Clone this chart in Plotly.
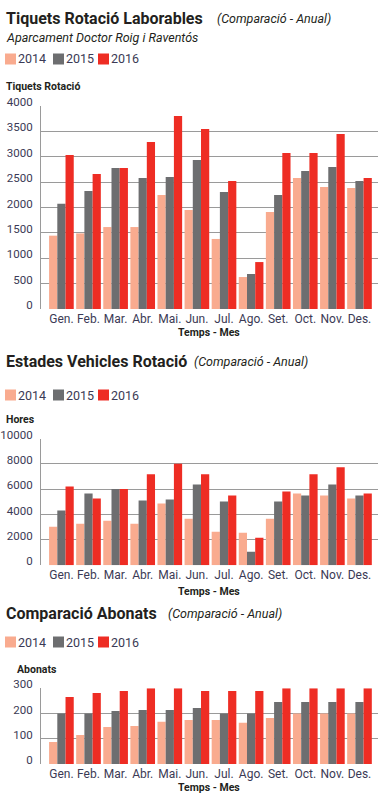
import plotly.graph_objects as go

W, H = 387, 804

months = ["Gen.", "Feb.", "Mar.", "Abr.", "Mai.", "Jun.", "Jul.", "Ago.", "Set.", "Oct.", "Nov.", "Des."]
years = ["2014", "2015", "2016"]
colors = ["#F9AB8F", "#6D6E70", "#EE2D24"]

tiquets_2014 = [1445, 1490, 1615, 1615, 2245, 1950, 1380, 630, 1910, 2580, 2405, 2385]
tiquets_2015 = [2075, 2325, 2780, 2580, 2600, 2935, 2305, 690, 2245, 2720, 2800, 2520]
tiquets_2016 = [3035, 2660, 2780, 3290, 3805, 3545, 2520, 925, 3075, 3075, 3450, 2580]

hores_2014 = [3050, 3280, 3520, 3280, 4870, 3680, 2650, 2570, 3680, 5670, 5510, 5270]
hores_2015 = [4320, 5670, 6010, 5110, 5190, 6380, 5030, 1060, 5030, 5510, 6380, 5510]
hores_2016 = [6220, 5270, 6010, 7180, 8000, 7180, 5510, 2170, 5830, 7180, 7740, 5670]

abonats_2014 = [87, 115, 147, 151, 167, 174, 174, 163, 182, 200, 200, 200]
abonats_2015 = [200, 200, 210, 214, 214, 222, 200, 200, 246, 246, 246, 246]
abonats_2016 = [266, 281, 289, 300, 300, 289, 289, 289, 300, 300, 300, 300]

y_ticks_1 = [0, 500, 1000, 1500, 2000, 2500, 3000, 3500, 4000]
y_ticks_2 = [0, 2000, 4000, 6000, 8000, 10000]
y_ticks_3 = [0, 100, 200, 300]

FONT = "Roboto"
TXT = "#231f20"
TICK = "#3b3a55"
GRID = "#9a9a9a"


def py(p):
    return 1 - p / H


def px(p):
    return p / W


fig = go.Figure()

series = [
    ([tiquets_2014, tiquets_2015, tiquets_2016], "x", "y"),
    ([hores_2014, hores_2015, hores_2016], "x2", "y2"),
    ([abonats_2014, abonats_2015, abonats_2016], "x3", "y3"),
]
for vals, xa, ya in series:
    for yr, v, c in zip(years, vals, colors):
        fig.add_trace(go.Bar(x=months, y=v, name=yr, marker=dict(color=c, line=dict(width=0)),
                             xaxis=xa, yaxis=ya, showlegend=False, hoverinfo="skip"))

xrange = [-0.753, 11.683]
xd = [px(41), px(378)]
plots = [(106, 309, [0, 4000], y_ticks_1), (438.5, 565.3, [0, 10000], y_ticks_2), (688.3, 764, [0, 300], y_ticks_3)]

layout = dict(
    width=W, height=H, margin=dict(l=0, r=0, t=0, b=0, autoexpand=False),
    paper_bgcolor="white", plot_bgcolor="white",
    barmode="group", bargap=0.09, bargroupgap=0,
    font=dict(family=FONT, color=TXT),
)
for i, (top, bot, rng, ticks) in enumerate(plots):
    sfx = "" if i == 0 else str(i + 1)
    layout["xaxis" + sfx] = dict(domain=xd, range=xrange, anchor="y" + sfx, showgrid=False,
                                 showline=False, ticks="", automargin=False,
                                 tickfont=dict(size=12, color=TICK, family=FONT),
                                 ticklabelstandoff=1, fixedrange=True)
    layout["yaxis" + sfx] = dict(domain=[py(bot), py(top)], range=rng, anchor="x" + sfx,
                                 tickvals=ticks, ticktext=[str(t) for t in ticks],
                                 showgrid=True, gridcolor=GRID, gridwidth=1,
                                 showline=True, linecolor=GRID, linewidth=1,
                                 zeroline=False, ticks="", ticklabelstandoff=5, automargin=False,
                                 ticklabelshift=-4,
                                 tickfont=dict(size=11.5, color=TICK, family=FONT), fixedrange=True)
fig.update_layout(**layout)

ann = []
shapes = []


def text(x, y, s, size, bold=False, italic=False, color=TXT, xanchor="left"):
    ann.append(dict(x=px(x), y=py(y), xref="paper", yref="paper", text=s, showarrow=False,
                    xanchor=xanchor, yanchor="middle", borderpad=0,
                    font=dict(size=size, family=FONT, color=color,
                              weight="bold" if bold else "normal",
                              style="italic" if italic else "normal")))


def legend(y):
    xs = [5, 53, 98]
    for x0, yr, c in zip(xs, years, colors):
        shapes.append(dict(type="rect", xref="paper", yref="paper", x0=px(x0), x1=px(x0 + 11),
                           y0=py(y + 5.5), y1=py(y - 5.5), fillcolor=c, line=dict(width=0)))
        text(x0 + 12, y, yr, 12.5, color=TICK)


titles = [
    ("Tiquets Rotació Laborables", 19, 216),
    ("Estades Vehicles Rotació", 361, 193),
    ("Comparació Abonats", 613, 167),
]
for t, y, xi in titles:
    text(5, y, t, 16, bold=True)
    text(xi, y, "(Comparació - Anual)", 12.5, italic=True)
text(5, 37, "Aparcament Doctor Roig i Raventós", 12.5, italic=True)

legend(59)
legend(395)
legend(642)

text(5, 86, "Tiquets Rotació", 10.5, bold=True)
text(5, 419, "Hores", 10.5, bold=True)
text(16, 669, "Abonats", 10.5, bold=True)

for y in [332, 591, 787]:
    text(209, y, "Temps - Mes", 10.5, bold=True, xanchor="center")

fig.update_layout(annotations=ann, shapes=shapes)
fig.write_html("out.html", config={"displayModeBar": False},
               post_script="document.body.style.margin='0px';document.body.style.padding='0px';")
